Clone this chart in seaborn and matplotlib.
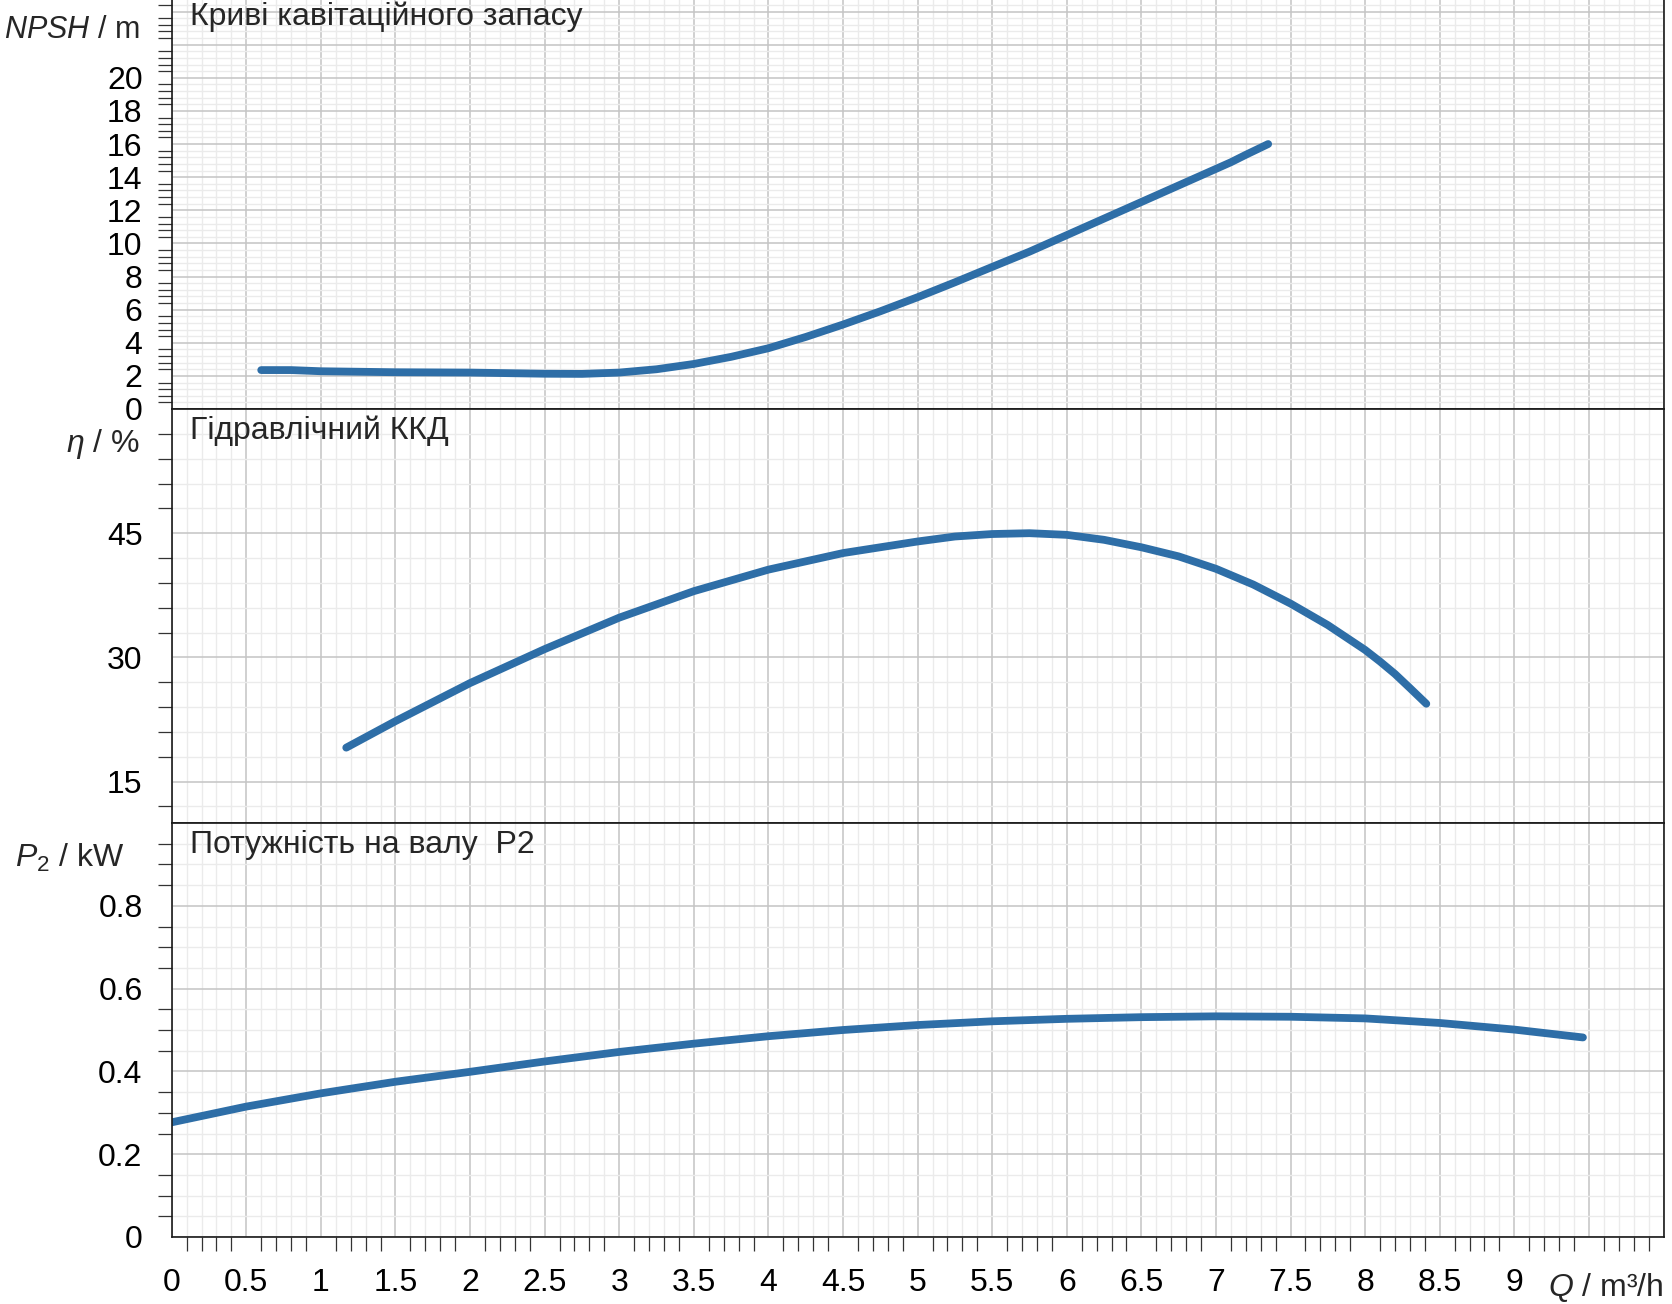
import numpy as np
import pandas as pd
import seaborn as sns
import matplotlib.pyplot as plt
from matplotlib.ticker import MultipleLocator, FixedLocator, FixedFormatter

# values
q_npsh = [0.6, 0.8, 1.0, 1.5, 2.0, 2.5, 2.75, 3.0, 3.25, 3.5, 3.75, 4.0, 4.25, 4.5,
          4.75, 5.0, 5.25, 5.5, 5.75, 6.0, 6.25, 6.5, 6.75, 7.0, 7.1, 7.2, 7.35]
npsh = [2.35, 2.35, 2.28, 2.22, 2.2, 2.13, 2.12, 2.2, 2.4, 2.72, 3.15, 3.67, 4.35, 5.1,
        5.9, 6.75, 7.65, 8.58, 9.5, 10.5, 11.5, 12.5, 13.5, 14.5, 14.9, 15.35, 16.0]

q_eta = [1.17, 1.5, 2.0, 2.5, 3.0, 3.5, 4.0, 4.5, 5.0, 5.25, 5.5, 5.75, 6.0, 6.25,
         6.5, 6.75, 7.0, 7.25, 7.5, 7.75, 8.0, 8.1, 8.2, 8.3, 8.41]
eta = [19.1, 22.3, 26.9, 31.0, 34.8, 38.0, 40.6, 42.6, 44.0, 44.6, 44.9, 45.0, 44.8, 44.2,
       43.3, 42.2, 40.7, 38.8, 36.5, 33.9, 30.9, 29.5, 28.0, 26.3, 24.4]

q_p2 = [0, 0.5, 1.0, 1.5, 2.0, 2.5, 3.0, 3.5, 4.0, 4.5, 5.0, 5.5, 6.0, 6.5, 7.0, 7.5,
        8.0, 8.5, 9.0, 9.46]
p2 = [0.277, 0.315, 0.347, 0.375, 0.399, 0.424, 0.447, 0.467, 0.485, 0.500, 0.512, 0.521,
      0.527, 0.531, 0.533, 0.532, 0.528, 0.517, 0.501, 0.482]

titles = ['Криві кавітаційного запасу', 'Гідравлічний ККД', 'Потужність на валу  P2']
y_labels = [r'$\mathit{NPSH}$ / m', r'$\mathit{\eta}$ / %', r'$\mathit{P}_{2}$ / kW']
q_label = r'$\mathit{Q}$ / m³/h'

x_ticks = np.arange(0, 10.01, 0.5)
x_ticklabels = [f'{v:g}' for v in x_ticks[:-2]] + ['', '']

sns.set_theme(style='white')
plt.rcParams['font.family'] = ['Liberation Sans', 'DejaVu Sans']
plt.rcParams['mathtext.fontset'] = 'custom'
plt.rcParams['mathtext.rm'] = 'Liberation Sans'
plt.rcParams['mathtext.it'] = 'Liberation Sans:italic'

fs = 23
W, H = 1672, 1304
fig = plt.figure(figsize=(W / 100, H / 100), dpi=100)
left, width = 171.7 / W, (1663.5 - 171.7) / W
ph = 414 / H
ax_top = fig.add_axes([left, 1 - 409 / H, width, ph])
ax_mid = fig.add_axes([left, 1 - 823 / H, width, ph])
ax_bot = fig.add_axes([left, 1 - 1237 / H, width, ph])

blue = '#2e6ea7'
line_kw = dict(color=blue, linewidth=5.6, solid_capstyle='round', solid_joinstyle='round')
sns.lineplot(x=q_npsh, y=npsh, ax=ax_top, **line_kw)
sns.lineplot(x=q_eta, y=eta, ax=ax_mid, **line_kw)
sns.lineplot(x=q_p2, y=p2, ax=ax_bot, **line_kw)

specs = [
    (ax_top, (0, 25), np.arange(0, 25, 2), 0.4, [f'{v:g}' for v in range(0, 21, 2)] + ['', ''], 22.9),
    (ax_mid, (10, 60), [15, 30, 45, 60], 3, ['15', '30', '45', ''], 55.8),
    (ax_bot, (0, 1.0), [0, 0.2, 0.4, 0.6, 0.8, 1.0], 0.05, ['0', '0.2', '0.4', '0.6', '0.8', ''], 0.915),
]
label_sizes = [22, fs, fs]

for i, (ax, ylim, yt, ymin, ylab, ly) in enumerate(specs):
    ax.set_xlim(0, 10)
    ax.set_ylim(*ylim)
    ax.set_xlabel('')
    ax.set_ylabel('')
    ax.xaxis.set_major_locator(FixedLocator(x_ticks))
    ax.xaxis.set_minor_locator(MultipleLocator(0.1))
    ax.yaxis.set_major_locator(FixedLocator(yt))
    ax.yaxis.set_major_formatter(FixedFormatter(ylab))
    ax.yaxis.set_minor_locator(MultipleLocator(ymin))
    ax.grid(which='minor', color='#ebebeb', linewidth=1.0)
    ax.grid(which='major', color='#c4c4c4', linewidth=1.1)
    ax.set_axisbelow(True)
    ax.set_facecolor('white')
    for s in ax.spines.values():
        s.set_color('#1a1a1a')
        s.set_linewidth(1.2)
    ax.tick_params(axis='y', which='major', direction='out', length=17, width=0.9,
                   color='#333333', labelsize=fs, pad=4, labelcolor='black')
    ax.tick_params(axis='y', which='minor', direction='out', length=10, width=0.9,
                   color='#333333', left=True)
    if ax is ax_bot:
        ax.set_xticklabels(x_ticklabels)
        ax.tick_params(axis='x', which='major', direction='out', length=17, width=0.9,
                       color='#333333', labelsize=fs, pad=5, labelcolor='black')
        ax.tick_params(axis='x', which='minor', direction='out', length=10, width=0.9,
                       color='#333333', bottom=True)
    else:
        ax.tick_params(axis='x', which='both', length=0, labelbottom=False)
    ax.text(0.0123, 0.9275, titles[i], transform=ax.transAxes, fontsize=fs,
            ha='left', va='baseline')
    lx = -0.0317 if ax is ax_bot else -0.0215
    ax.text(lx, ly, y_labels[i], transform=ax.get_yaxis_transform(), fontsize=label_sizes[i],
            ha='right', va='center')

ax_top.spines['top'].set_visible(False)
ax_bot.text(1.0, -0.123, q_label, transform=ax_bot.transAxes, fontsize=fs,
            ha='right', va='center')

fig.savefig('out.png', dpi=100)
